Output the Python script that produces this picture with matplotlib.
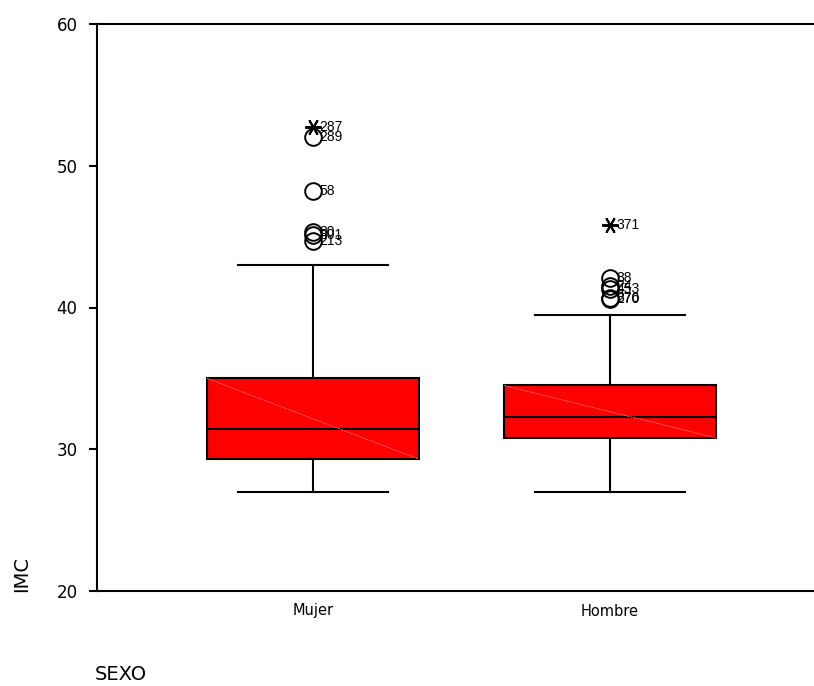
import matplotlib
matplotlib.use("Agg")
import matplotlib.pyplot as plt

# Box statistics per group
groups = ["Mujer", "Hombre"]
q1 = [29.3, 30.8]
median = [31.4, 32.3]
q3 = [35.0, 34.5]
whisker_low = [27.0, 27.0]
whisker_high = [43.0, 39.5]

# Outliers (value, case id)
mujer_extremes = [52.7]
mujer_extreme_ids = ["287"]
mujer_outliers = [52.0, 48.2, 45.3, 45.1, 44.7]
mujer_outlier_ids = ["289", "58", "80", "301", "213"]

hombre_extremes = [45.8]
hombre_extreme_ids = ["371"]
hombre_outliers = [42.1, 41.5, 41.3, 40.7, 40.6]
hombre_outlier_ids = ["88", "24", "453", "376", "270"]

y_ticks = [20, 30, 40, 50, 60]

fig = plt.figure(figsize=(8.14, 6.86), dpi=100)
ax = fig.add_axes([97 / 814, 1 - 591 / 686, 1 - 97 / 814, (591 - 24) / 686])

stats = []
for i, g in enumerate(groups):
    stats.append(dict(label=g, med=median[i], q1=q1[i], q3=q3[i],
                      whislo=whisker_low[i], whishi=whisker_high[i], fliers=[]))

positions = [1, 2]
bw = 0.714
ax.bxp(stats, positions=positions, widths=bw, patch_artist=True,
       showfliers=False,
       boxprops=dict(facecolor="#ff0000", edgecolor="black", linewidth=1.5),
       medianprops=dict(color="black", linewidth=1.5),
       whiskerprops=dict(color="black", linewidth=1.5),
       capprops=dict(color="black", linewidth=1.5),
       capwidths=0.505)

# faint diagonal across each box
for p, lo, hi in zip(positions, q1, q3):
    ax.plot([p - bw / 2, p + bw / 2], [hi, lo], color="#ff7070",
            linewidth=0.6, linestyle=(0, (3, 1)), zorder=3)

star = (6, 2, 90)
lbl_font = dict(family="Liberation Sans", fontsize=10, va="center", ha="left")
for p, ext, ext_ids, out, out_ids in [
        (1, mujer_extremes, mujer_extreme_ids, mujer_outliers, mujer_outlier_ids),
        (2, hombre_extremes, hombre_extreme_ids, hombre_outliers, hombre_outlier_ids)]:
    for v, lab in zip(out, out_ids):
        ax.plot(p, v, marker="o", markersize=12, markerfacecolor="none",
                markeredgecolor="black", markeredgewidth=1.4, zorder=4)
        ax.annotate(lab, (p, v), xytext=(4.5, 0), textcoords="offset points", **lbl_font)
    for v, lab in zip(ext, ext_ids):
        ax.plot(p, v, marker=star, markersize=12, color="black",
                markeredgewidth=1.4, zorder=4)
        ax.annotate(lab, (p, v), xytext=(4.5, 0), textcoords="offset points", **lbl_font)

ax.set_ylim(20, 60)
ax.set_xlim(0.273, 2.687)
ax.set_yticks(y_ticks)
ax.set_yticklabels([str(t) for t in y_ticks], fontsize=12, family="DejaVu Sans")
ax.set_xticks(positions)
ax.set_xticklabels(groups, fontsize=10.5, family="DejaVu Sans")
ax.tick_params(axis="y", length=6, width=1.5, pad=8)
ax.tick_params(axis="x", length=0, pad=9)
for s in ["left", "top", "bottom"]:
    ax.spines[s].set_linewidth(1.5)
ax.spines["right"].set_visible(False)

fig.text(22 / 814, 1 - 592 / 686, "IMC", rotation=90, fontsize=14,
         family="DejaVu Sans", ha="center", va="bottom")
fig.text(95 / 814, 1 - 675 / 686, "SEXO", fontsize=14,
         family="DejaVu Sans", ha="left", va="center")

fig.savefig("out.png", dpi=100)
